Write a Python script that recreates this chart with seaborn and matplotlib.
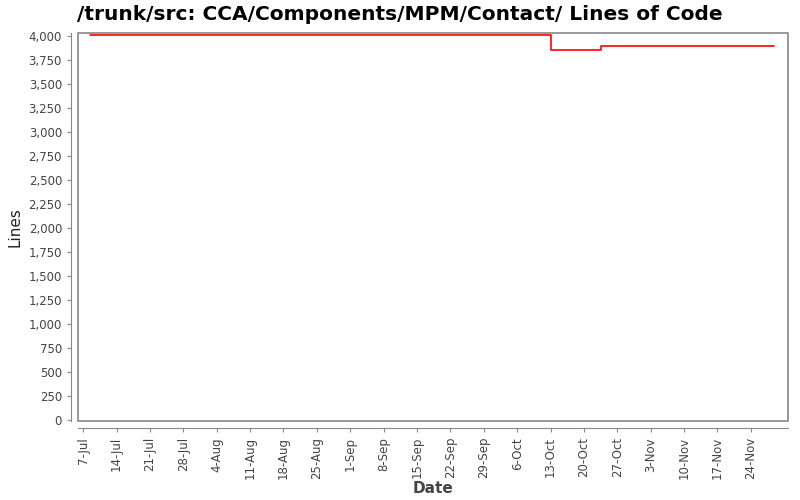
import pandas as pd
import matplotlib
matplotlib.use('Agg')
import matplotlib.pyplot as plt
from matplotlib.patches import Rectangle
import seaborn as sns

# lines of code, step changes
dates = ['2008-07-08 12:00', '2008-10-01 12:00', '2008-10-13 00:00', '2008-10-23 12:00', '2008-11-28 20:00']
lines = [4005, 4015, 3855, 3893, 3893]

df = pd.DataFrame({'Date': pd.to_datetime(dates), 'Lines': lines})

sns.set_style("white")
plt.rcParams['font.family'] = ['DejaVu Sans']

fig = plt.figure(figsize=(8, 5), dpi=100)
ax = fig.add_axes([0.0975, 0.158, 0.8875, 0.776])

sns.lineplot(x='Date', y='Lines', data=df, drawstyle='steps-post', color='red', linewidth=1.2, ax=ax)

ax.set_xlim(pd.Timestamp('2008-07-05 22:00'), pd.Timestamp('2008-12-01 19:00'))
ax.set_ylim(-7, 4031)
ax.set_yticks(range(0, 4001, 250))
ax.yaxis.set_major_formatter(matplotlib.ticker.FuncFormatter(lambda v, p: '{:,}'.format(int(v))))

ticks = pd.date_range('2008-07-07', '2008-11-24', freq='7D')
ax.set_xticks(ticks)
ax.set_xticklabels([f'{d.day}-{d.strftime("%b")}' for d in ticks])

for s in ['top', 'right']:
    ax.spines[s].set_visible(False)
for s in ['left', 'bottom']:
    ax.spines[s].set_position(('outward', 5))
    ax.spines[s].set_color('#888888')
ax.add_patch(Rectangle((0, 0), 1, 1, transform=ax.transAxes, fill=False,
                       edgecolor='#888888', linewidth=1.2, clip_on=False))

ax.tick_params(axis='both', colors='#888888', labelcolor='#444444', labelsize=8.5,
               length=3, direction='out', left=True, bottom=True)
ax.tick_params(axis='x', labelrotation=90)

ax.set_xlabel('Date', fontsize=11, color='#444444', fontweight='bold', labelpad=1)
ax.set_ylabel('Lines', fontsize=11, color='#222222')
fig.suptitle('/trunk/src: CCA/Components/MPM/Contact/ Lines of Code', x=0.5, y=0.99,
             fontsize=14.5, fontweight='bold', ha='center', color='black')

fig.savefig('out.png', dpi=100)
